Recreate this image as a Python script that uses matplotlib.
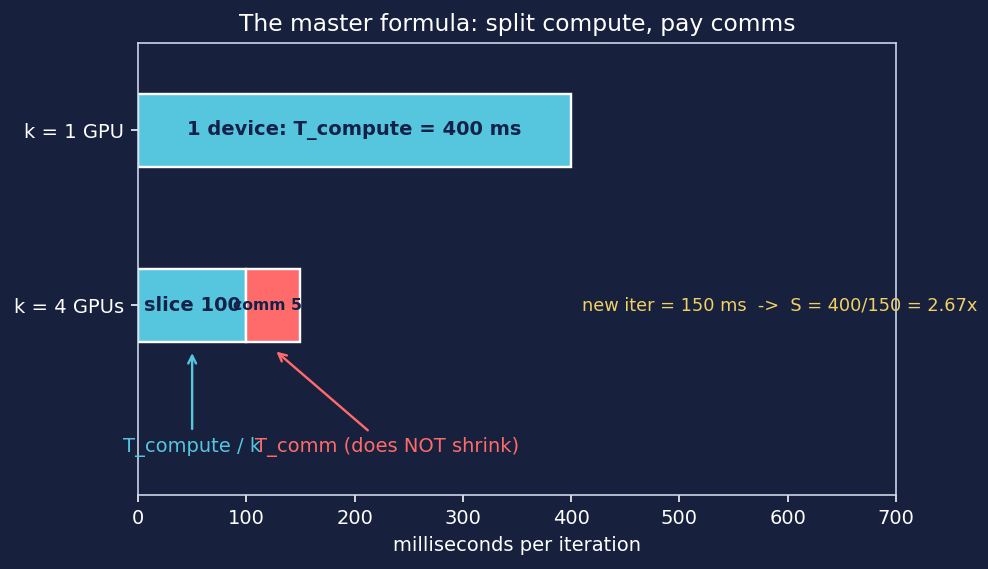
import matplotlib
matplotlib.use("Agg")
import matplotlib.pyplot as plt

# data (ms per iteration)
categories = ["k = 1 GPU", "k = 4 GPUs"]
compute_ms = [400, 100]
comm_ms = [0, 50]
bar_labels = ["1 device: T_compute = 400 ms", "slice 100"]
comm_label = "comm 5"
speedup_note = "new iter = 150 ms  ->  S = 400/150 = 2.67x"

bg = "#17203d"
cyan = "#56c5de"
red = "#ff6b6b"
navy_txt = "#14224a"
spine_c = "#d0dcee"

fig, ax = plt.subplots(figsize=(988 / 144, 569 / 144), dpi=144)
fig.patch.set_facecolor(bg)
ax.set_facecolor(bg)

ypos = [0, 1]
h = 0.42
ax.barh(ypos, compute_ms, height=h, color=cyan, edgecolor="white", linewidth=1.2)
ax.barh(ypos[1], comm_ms[1], left=compute_ms[1], height=h, color=red,
        edgecolor="white", linewidth=1.2)

fs = 9.75
ax.text(compute_ms[0] / 2, ypos[0], bar_labels[0], ha="center", va="center",
        fontsize=fs, fontweight="bold", color=navy_txt)
ax.text(compute_ms[1] / 2, ypos[1], bar_labels[1], ha="center", va="center",
        fontsize=fs, fontweight="bold", color=navy_txt)
ax.text(compute_ms[1] + 20, ypos[1], comm_label, ha="center", va="center",
        fontsize=7.9, fontweight="bold", color=navy_txt)

ax.text(410, ypos[1], speedup_note, ha="left", va="center", fontsize=8.9,
        color="#f0d264")

ax.annotate("T_compute / k", xy=(compute_ms[1] / 2, 1.25), xytext=(compute_ms[1] / 2, 1.81),
            ha="center", va="center", color=cyan, fontsize=fs,
            arrowprops=dict(arrowstyle="->", color=cyan, lw=1.2))
ax.annotate("T_comm (does NOT shrink)", xy=(125, 1.25), xytext=(230, 1.81),
            ha="center", va="center", color=red, fontsize=fs,
            arrowprops=dict(arrowstyle="->", color=red, lw=1.2))

ax.set_xlim(0, 700)
ax.set_ylim(2.085, -0.5)
ax.set_yticks(ypos)
ax.set_yticklabels(categories)
ax.set_xlabel("milliseconds per iteration", color="white", fontsize=fs)
ax.set_title("The master formula: split compute, pay comms", color="white", fontsize=11.7)
ax.tick_params(colors="white", labelsize=fs)
for s in ax.spines.values():
    s.set_color(spine_c)

fig.subplots_adjust(left=138 / 988, right=896 / 988, top=1 - 43 / 569, bottom=1 - 495 / 569)
fig.savefig("out.png", dpi=144, facecolor=bg)
